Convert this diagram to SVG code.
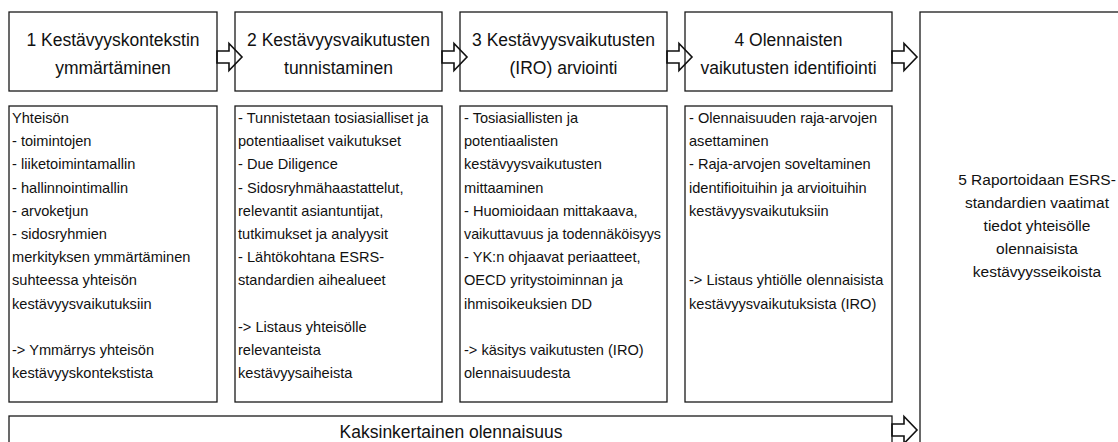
<svg xmlns="http://www.w3.org/2000/svg" width="1118" height="442" viewBox="0 0 1118 442">
<style>
.box{fill:#fff;stroke:#1a1a1a;stroke-width:1.3}
.h{font-family:"Liberation Sans",Arial,sans-serif;font-size:17.5px;fill:#111;text-anchor:middle}
.b{font-family:"Liberation Sans",Arial,sans-serif;font-size:14.6px;fill:#111}
.c{font-family:"Liberation Sans",Arial,sans-serif;font-size:15.5px;fill:#111;text-anchor:middle}
.arr{fill:none;stroke:#111;stroke-width:1.6;stroke-linejoin:miter}
</style>
<defs>
<path id="ar" d="M0,-6 H12 V-13.5 L25,0 L12,13.5 V6 H0 Z"/>
</defs>
<rect width="1118" height="442" fill="#fff"/>
<g id="step1">
<rect class="box" x="9" y="12" width="208" height="79"/>
<text class="h" x="113" y="46">1 Kestävyyskontekstin</text>
<text class="h" x="113" y="74">ymmärtäminen</text>
</g>
<g id="step2">
<rect class="box" x="235" y="12" width="207" height="79"/>
<text class="h" x="338.5" y="46">2 Kestävyysvaikutusten</text>
<text class="h" x="338.5" y="74">tunnistaminen</text>
</g>
<g id="step3">
<rect class="box" x="460" y="12" width="207" height="79"/>
<text class="h" x="563.5" y="46">3 Kestävyysvaikutusten</text>
<text class="h" x="563.5" y="74">(IRO) arviointi</text>
</g>
<g id="step4">
<rect class="box" x="685" y="12" width="207" height="79"/>
<text class="h" x="788.5" y="46">4 Olennaisten</text>
<text class="h" x="788.5" y="74">vaikutusten identifiointi</text>
</g>
<g id="step5">
<rect class="box" x="920" y="12" width="240" height="450"/>
<text class="c" x="1037" y="185">5 Raportoidaan ESRS-</text>
<text class="c" x="1037" y="208">standardien vaatimat</text>
<text class="c" x="1037" y="231">tiedot yhteisölle</text>
<text class="c" x="1037" y="254">olennaisista</text>
<text class="c" x="1037" y="277">kestävyysseikoista</text>
</g>
<g id="detail1">
<rect class="box" x="9" y="106" width="208" height="296"/>
<text class="b" x="12" y="123">Yhteisön</text>
<text class="b" x="12" y="146.2">- toimintojen</text>
<text class="b" x="12" y="169.4">- liiketoimintamallin</text>
<text class="b" x="12" y="192.6">- hallinnointimallin</text>
<text class="b" x="12" y="215.8">- arvoketjun</text>
<text class="b" x="12" y="239">- sidosryhmien</text>
<text class="b" x="12" y="262.2">merkityksen ymmärtäminen</text>
<text class="b" x="12" y="285.4">suhteessa yhteisön</text>
<text class="b" x="12" y="308.6">kestävyysvaikutuksiin</text>
<text class="b" x="12" y="355">-&gt; Ymmärrys yhteisön</text>
<text class="b" x="12" y="378.2">kestävyyskontekstista</text>
</g>
<g id="detail2">
<rect class="box" x="235" y="106" width="207" height="296"/>
<text class="b" x="238" y="123">- Tunnistetaan tosiasialliset ja</text>
<text class="b" x="238" y="146.2">potentiaaliset vaikutukset</text>
<text class="b" x="238" y="169.4">- Due Diligence</text>
<text class="b" x="238" y="192.6">- Sidosryhmähaastattelut,</text>
<text class="b" x="238" y="215.8">relevantit asiantuntijat,</text>
<text class="b" x="238" y="239">tutkimukset ja analyysit</text>
<text class="b" x="238" y="262.2">- Lähtökohtana ESRS-</text>
<text class="b" x="238" y="285.4">standardien aihealueet</text>
<text class="b" x="238" y="331.8">-&gt; Listaus yhteisölle</text>
<text class="b" x="238" y="355">relevanteista</text>
<text class="b" x="238" y="378.2">kestävyysaiheista</text>
</g>
<g id="detail3">
<rect class="box" x="460" y="106" width="207" height="296"/>
<text class="b" x="464" y="123">- Tosiasiallisten ja</text>
<text class="b" x="464" y="146.2">potentiaalisten</text>
<text class="b" x="464" y="169.4">kestävyysvaikutusten</text>
<text class="b" x="464" y="192.6">mittaaminen</text>
<text class="b" x="464" y="215.8">- Huomioidaan mittakaava,</text>
<text class="b" x="464" y="239" textLength="197" lengthAdjust="spacingAndGlyphs">vaikuttavuus ja todennäköisyys</text>
<text class="b" x="464" y="262.2">- YK:n ohjaavat periaatteet,</text>
<text class="b" x="464" y="285.4">OECD yritystoiminnan ja</text>
<text class="b" x="464" y="308.6">ihmisoikeuksien DD</text>
<text class="b" x="464" y="355">-&gt; käsitys vaikutusten (IRO)</text>
<text class="b" x="464" y="378.2">olennaisuudesta</text>
</g>
<g id="detail4">
<rect class="box" x="685" y="106" width="207" height="296"/>
<text class="b" x="689" y="123">- Olennaisuuden raja-arvojen</text>
<text class="b" x="689" y="146.2">asettaminen</text>
<text class="b" x="689" y="169.4">- Raja-arvojen soveltaminen</text>
<text class="b" x="689" y="192.6">identifioituihin ja arvioituihin</text>
<text class="b" x="689" y="215.8">kestävyysvaikutuksiin</text>
<text class="b" x="689" y="285.4">-&gt; Listaus yhtiölle olennaisista</text>
<text class="b" x="689" y="308.6">kestävyysvaikutuksista (IRO)</text>
</g>
<g id="double-materiality">
<rect class="box" x="9" y="416" width="883" height="40"/>
<text class="h" x="451" y="438">Kaksinkertainen olennaisuus</text>
</g>
<g id="connectors">
<use href="#ar" class="arr" transform="translate(217,57)"/>
<use href="#ar" class="arr" transform="translate(442,57)"/>
<use href="#ar" class="arr" transform="translate(667,57)"/>
<use href="#ar" class="arr" transform="translate(892,57)"/>
<use href="#ar" class="arr" transform="translate(892,430)"/>
</g>
</svg>
